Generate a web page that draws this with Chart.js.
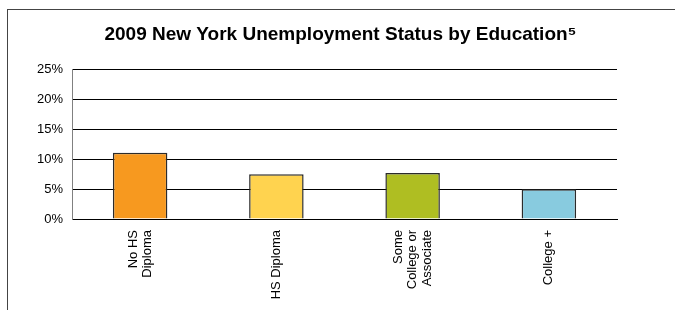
<!DOCTYPE html>
<html>
<head>
<meta charset="utf-8">
<script src="https://cdn.jsdelivr.net/npm/chart.js@4/dist/chart.umd.min.js"></script>
<style>
  html, body { margin: 0; padding: 0; background: #fff; }
  #wrap { position: relative; width: 675px; height: 310px; }
  #frame {
    position: absolute; left: 7px; top: 9px; right: 0; bottom: 0;
    border-top: 1px solid #444; border-left: 1px solid #444;
    pointer-events: none;
  }
  canvas { position: absolute; left: 0; top: 0; }
</style>
</head>
<body>
<div id="wrap">
  <canvas id="chart" width="675" height="310"></canvas>
  <div id="frame"></div>
</div>
<script>
// Unemployment rate by education, New York 2009 (percent)
const categories = [['No HS', 'Diploma'], ['HS Diploma'], ['Some', 'College or', 'Associate'], ['College +']];
const rates = [11.1, 7.5, 7.7, 5.0];
const barColors = ['#F7991F', '#FFD34F', '#AFBE22', '#88CBDF'];
const yTicks = [0, 5, 10, 15, 20, 25];

const FONT = 'Liberation Sans, Arial, Helvetica, sans-serif';

// center multi-line rotated tick labels on their tick (Chart.js puts line 1 on the tick)
const centerLines = {
  id: 'centerLines',
  beforeDraw(chart) {
    const s = chart.scales.x;
    s.getLabelItems().forEach((item) => {
      if (item._centered || !Array.isArray(item.label)) return;
      const lh = item.font.lineHeight;
      item.textOffset -= (item.label.length - 1) * lh / 2;
      item._centered = true;
    });
  },
};

const ctx = document.getElementById('chart').getContext('2d');
new Chart(ctx, {
  type: 'bar',
  data: {
    labels: categories,
    datasets: [{
      label: 'Unemployment',
      data: rates,
      backgroundColor: barColors,
      borderColor: '#2b2b2b',
      borderWidth: 1.5,
      borderSkipped: 'start',
      categoryPercentage: 1,
      barPercentage: 0.4,
    }],
  },
  plugins: [centerLines],
  options: {
    responsive: false,
    animation: false,
    layout: { padding: { left: 6, right: 0, top: 0, bottom: 0 } },
    plugins: {
      legend: { display: false },
      tooltip: { enabled: false },
      title: {
        display: true,
        text: '2009 New York Unemployment Status by Education\u2075',
        color: '#000',
        font: { family: FONT, size: 19, weight: 'bold', lineHeight: 1.2 },
        padding: { top: 23, bottom: 24 },
      },
    },
    scales: {
      x: {
        grid: { display: false, drawTicks: false },
        border: { display: true, color: '#000', width: 1 },
        ticks: {
          color: '#000',
          font: { family: FONT, size: 13, lineHeight: 1.1 },
          maxRotation: 90,
          minRotation: 90,
          padding: 11,
          autoSkip: false,
        },
        afterFit: (s) => { s.height = 91; },
      },
      y: {
        min: 0,
        max: 25,
        afterBuildTicks: (s) => { s.ticks = yTicks.map(v => ({ value: v })); },
        grid: { color: '#000', lineWidth: 1, drawTicks: false },
        border: { display: true, color: '#808080', width: 1 },
        ticks: {
          color: '#000',
          font: { family: FONT, size: 13 },
          padding: 9,
          callback: (v) => v + '%',
        },
        afterFit: (s) => { s.width = 66; },
      },
      // empty right-hand axis only reserves the white space right of the plot
      yRight: {
        position: 'right',
        display: true,
        min: 0,
        max: 25,
        grid: { display: false, drawTicks: false },
        border: { display: false },
        ticks: { display: false },
        afterFit: (s) => { s.width = 58; },
      },
    },
  },
});
</script>
</body>
</html>
